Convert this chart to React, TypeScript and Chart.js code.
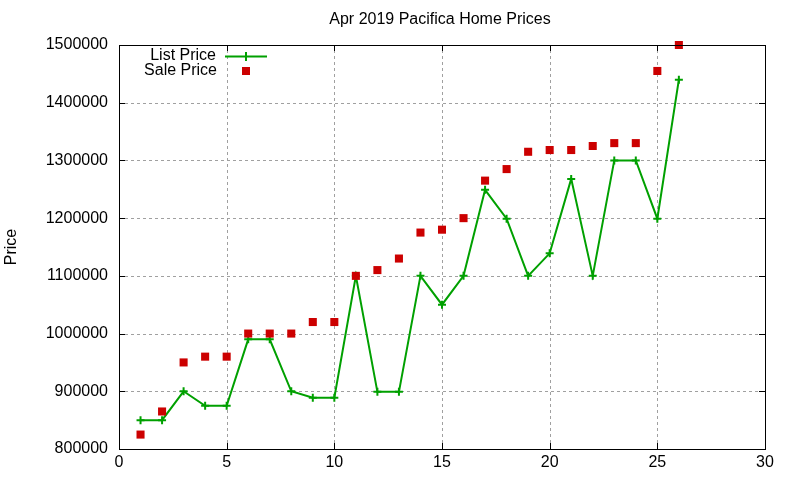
import React, { useEffect, useRef } from 'react';
import { Chart, registerables } from 'chart.js';

Chart.register(...registerables);

const days = [1, 2, 3, 4, 5, 6, 7, 8, 9, 10, 11, 12, 13, 14, 15, 16, 17, 18, 19, 20, 21, 22, 23, 24, 25, 26];
const listPrices = [
  850000, 850000, 900000, 875000, 875000, 990000, 990000, 900000, 889000, 889000,
  1100000, 899000, 899000, 1100000, 1050000, 1100000, 1249000, 1199000, 1100000, 1139000,
  1268000, 1100000, 1300000, 1300000, 1199000, 1440000,
];
const salePrices = [
  825000, 865000, 950000, 960000, 960000, 1000000, 1000000, 1000000, 1020000, 1020000,
  1100000, 1110000, 1130000, 1175000, 1180000, 1200000, 1265000, 1285000, 1315000, 1318000,
  1318000, 1325000, 1330000, 1330000, 1455000, 1500000,
];
const xTicks = [0, 5, 10, 15, 20, 25, 30];
const yTicks = [800000, 900000, 1000000, 1100000, 1200000, 1300000, 1400000, 1500000];

const FONT = '"Liberation Sans", Arial, sans-serif';
const GREEN = '#00a000';
const RED = '#cc0000';

// dotted grid behind the data, skipping the frame edges
const dottedGrid = {
  id: 'dottedGrid',
  beforeDatasetsDraw(chart: any) {
    const { ctx, chartArea } = chart;
    const { left, right, top, bottom } = chartArea;
    const xs = chart.scales.x;
    const ys = chart.scales.y;
    ctx.save();
    ctx.strokeStyle = '#a0a0a0';
    ctx.lineWidth = 1;
    ctx.setLineDash([3, 3]);
    ctx.beginPath();
    xTicks.slice(1, -1).forEach((v) => {
      const px = Math.round(xs.getPixelForValue(v)) + 0.5;
      ctx.moveTo(px, bottom);
      ctx.lineTo(px, top);
    });
    yTicks.slice(1, -1).forEach((v) => {
      const py = Math.round(ys.getPixelForValue(v)) + 0.5;
      ctx.moveTo(left, py);
      ctx.lineTo(right, py);
    });
    ctx.stroke();
    ctx.restore();
  },
};

// gnuplot-style frame: title, y label, full border with inward ticks, key box
const decorations = {
  id: 'decorations',
  afterDraw(chart: any) {
    const { ctx, chartArea } = chart;
    const { left, right, top, bottom } = chartArea;
    const xs = chart.scales.x;
    const ys = chart.scales.y;
    ctx.save();

    // border
    ctx.strokeStyle = '#000';
    ctx.lineWidth = 1;
    ctx.strokeRect(Math.round(left) + 0.5, Math.round(top) + 0.5, Math.round(right - left), Math.round(bottom - top));

    // inward ticks on all sides
    ctx.beginPath();
    xTicks.forEach((v) => {
      const px = Math.round(xs.getPixelForValue(v)) + 0.5;
      ctx.moveTo(px, bottom);
      ctx.lineTo(px, bottom - 6);
      ctx.moveTo(px, top);
      ctx.lineTo(px, top + 6);
    });
    yTicks.forEach((v) => {
      const py = Math.round(ys.getPixelForValue(v)) + 0.5;
      ctx.moveTo(left, py);
      ctx.lineTo(left + 6, py);
      ctx.moveTo(right, py);
      ctx.lineTo(right - 6, py);
    });
    ctx.stroke();

    // title
    ctx.fillStyle = '#000';
    ctx.font = `16px ${FONT}`;
    ctx.textAlign = 'center';
    ctx.textBaseline = 'middle';
    ctx.fillText('Apr 2019 Pacifica Home Prices', 440, 20);

    // y axis title
    ctx.save();
    ctx.translate(12, 247);
    ctx.rotate(-Math.PI / 2);
    ctx.fillText('Price', 0, 0);
    ctx.restore();

    // key
    ctx.textAlign = 'right';
    ctx.fillText('List Price', 216, 56);
    ctx.fillText('Sale Price', 217, 71);
    ctx.strokeStyle = GREEN;
    ctx.lineWidth = 2;
    ctx.beginPath();
    ctx.moveTo(225, 56.5);
    ctx.lineTo(267, 56.5);
    ctx.moveTo(246, 52);
    ctx.lineTo(246, 61);
    ctx.stroke();
    ctx.fillStyle = RED;
    ctx.fillRect(242, 67, 8, 8);

    ctx.restore();
  },
};

const App: React.FC = () => {
  const chartRef = useRef<HTMLCanvasElement>(null);
  const chartInstance = useRef<Chart | null>(null);

  useEffect(() => {
    document.body.style.margin = '0';
    if (chartRef.current) {
      const ctx = chartRef.current.getContext('2d');
      if (ctx) {
        if (chartInstance.current) {
          chartInstance.current.destroy();
        }
        chartInstance.current = new Chart(ctx, {
          type: 'line',
          data: {
            datasets: [
              {
                label: 'List Price',
                data: days.map((d, i) => ({ x: d, y: listPrices[i] })),
                borderColor: GREEN,
                backgroundColor: GREEN,
                borderWidth: 2,
                pointStyle: 'cross',
                pointRadius: 4,
                pointBorderWidth: 2,
                pointBorderColor: GREEN,
                tension: 0,
                clip: false,
                order: 2,
              },
              {
                label: 'Sale Price',
                data: days.map((d, i) => ({ x: d, y: salePrices[i] })),
                showLine: false,
                pointStyle: 'rect',
                pointRadius: 5.7,
                pointBorderWidth: 0,
                backgroundColor: RED,
                borderColor: RED,
                clip: false,
                order: 1,
              },
            ],
          },
          options: {
            responsive: false,
            animation: false,
            layout: { padding: { left: 0, right: 35, top: 45, bottom: 0 } },
            plugins: {
              legend: { display: false },
              title: { display: false },
              tooltip: { enabled: false },
            },
            scales: {
              x: {
                type: 'linear',
                min: 0,
                max: 30,
                afterBuildTicks: (axis: any) => {
                  axis.ticks = xTicks.map((v) => ({ value: v }));
                },
                afterFit: (axis: any) => {
                  axis.height = 31;
                },
                ticks: {
                  color: '#000',
                  font: { family: FONT, size: 16 },
                  padding: 4,
                  maxRotation: 0,
                  callback: (v: any) => String(v),
                },
                grid: { display: false, drawTicks: false },
                border: { display: false },
              },
              y: {
                type: 'linear',
                min: 800000,
                max: 1500000,
                afterBuildTicks: (axis: any) => {
                  axis.ticks = yTicks.map((v) => ({ value: v }));
                },
                afterFit: (axis: any) => {
                  axis.width = 119;
                },
                ticks: {
                  color: '#000',
                  font: { family: FONT, size: 16 },
                  padding: 11,
                  callback: (v: any) => String(v),
                },
                grid: { display: false, drawTicks: false },
                border: { display: false },
              },
            },
          },
          plugins: [dottedGrid, decorations],
        });
      }
    }

    return () => {
      if (chartInstance.current) {
        chartInstance.current.destroy();
        chartInstance.current = null;
      }
    };
  }, []);

  return (
    <div style={{ width: 800, height: 480, background: '#fff' }}>
      <canvas ref={chartRef} width={800} height={480} />
    </div>
  );
};

export default App;
